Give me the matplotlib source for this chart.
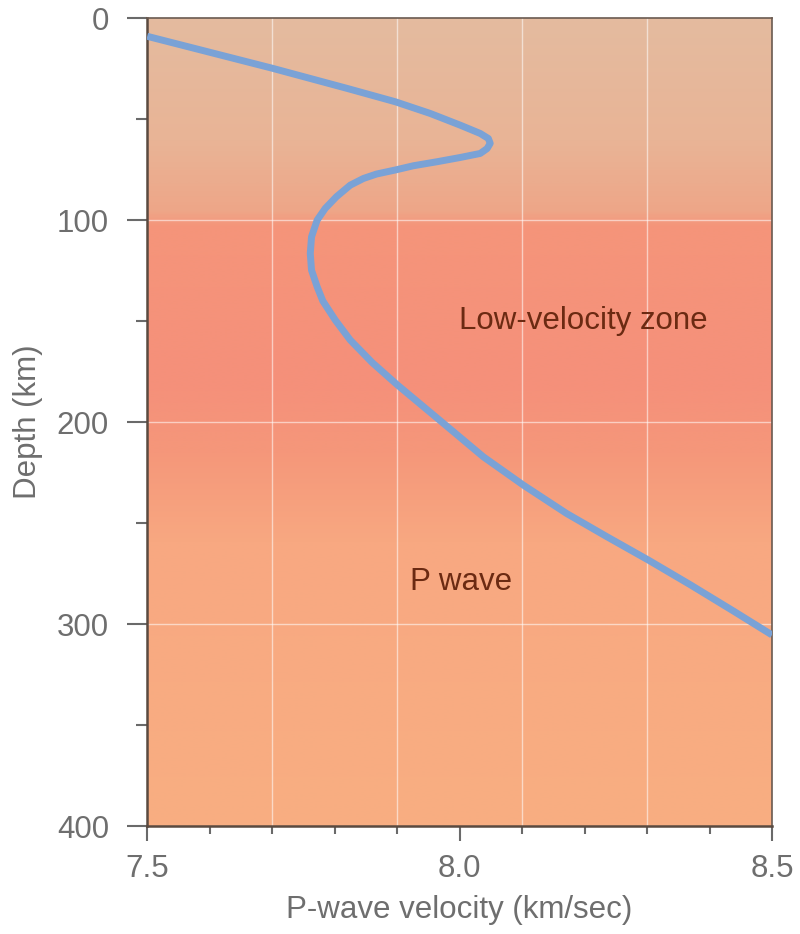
import numpy as np
import matplotlib
matplotlib.use("Agg")
import matplotlib.pyplot as plt
from matplotlib.colors import LinearSegmentedColormap
from matplotlib.ticker import MultipleLocator

# P-wave velocity profile (km/s, km)
velocity = [7.500, 7.600, 7.700, 7.766, 7.820, 7.897, 7.953, 8.001,
            8.033, 8.046, 8.049, 8.044, 8.033, 8.001, 7.964, 7.926, 7.897,
            7.867, 7.846, 7.825, 7.803, 7.785, 7.772, 7.763, 7.761, 7.763,
            7.772, 7.781, 7.801, 7.825, 7.860, 7.900, 7.974, 8.038, 8.102,
            8.171, 8.236, 8.302, 8.369, 8.438, 8.500]
depth = [9.0, 16.9, 24.8, 30.3, 34.8, 41.4, 47.2, 53.0,
         57.1, 59.6, 62.0, 64.6, 67.0, 69.0, 71.1, 73.1, 75.2,
         77.2, 79.4, 82.7, 88.4, 94.2, 100.0, 108.3, 116.5, 124.8,
         133.0, 140.0, 149.5, 159.4, 170.5, 181.5, 200.6, 217.2, 231.2,
         245.2, 256.8, 268.3, 280.5, 293.5, 305.4]

grid_x = [7.7, 7.9, 8.1, 8.3]
grid_y = [100, 200, 300]

# background shading by depth (km -> colour)
bg_depths = [0, 60, 95, 102, 180, 215, 260, 400]
bg_colors = ["#e4bb9f", "#e9b496", "#eea688", "#f5957a",
             "#f5907a", "#f5977a", "#f8a881", "#f8ae82"]

plt.rcParams['font.family'] = ['Liberation Sans', 'DejaVu Sans']
label_color = "#6e6e6e"
tick_color = "#6a6a6a"

fig = plt.figure(figsize=(8, 9.34), dpi=100)
ax = fig.add_axes([0.184, 0.1156, 0.781, 0.865])

cmap = LinearSegmentedColormap.from_list(
    "bg", list(zip(np.array(bg_depths) / 400.0, bg_colors)))
grad = np.linspace(0, 1, 400).reshape(-1, 1)
ax.imshow(grad, cmap=cmap, aspect="auto", extent=[7.5, 8.5, 400, 0],
          interpolation="bilinear", zorder=0)

for gx in grid_x:
    ax.axvline(gx, color="white", lw=1.0, alpha=0.55, zorder=1)
for gy in grid_y:
    ax.axhline(gy, color="white", lw=1.0, alpha=0.55, zorder=1)

ax.plot(velocity, depth, color="#7aa2d6", lw=5, solid_capstyle="butt",
        solid_joinstyle="round", zorder=3)

ax.set_xlim(7.5, 8.5)
ax.set_ylim(400, 0)

ax.xaxis.set_minor_locator(MultipleLocator(0.1))
ax.yaxis.set_major_locator(MultipleLocator(100))
ax.yaxis.set_minor_locator(MultipleLocator(50))
ax.set_xticks([7.5, 8.0, 8.5])
ax.set_xticklabels(["7.5", "8.0", "8.5"])

ax.tick_params(axis="x", which="major", length=11, width=1.5, color=tick_color,
               labelsize=22.5, labelcolor=label_color, pad=9)
ax.tick_params(axis="x", which="minor", length=6, width=1.5, color=tick_color)
ax.tick_params(axis="y", which="major", length=14.5, width=1.5,
               color=tick_color, labelsize=22.5, labelcolor=label_color,
               pad=13)
ax.tick_params(axis="y", which="minor", length=8, width=1.5, color=tick_color)

for side in ["left", "bottom"]:
    ax.spines[side].set_linewidth(1.8)
    ax.spines[side].set_color("#5a4a40")
for side in ["top", "right"]:
    ax.spines[side].set_linewidth(1.2)
    ax.spines[side].set_color("#6a5a50")

ax.set_xlabel("P-wave velocity (km/sec)", fontsize=22.5, color=label_color,
              labelpad=8)
ax.set_ylabel("Depth (km)", fontsize=22.5, color=label_color, labelpad=10)

ax.text(8.198, 150, "Low-velocity zone", fontsize=22.5, color="#6b2a12",
        ha="center", va="center", zorder=4)
ax.text(8.002, 279, "P wave", fontsize=22.5, color="#6b2a12",
        ha="center", va="center", zorder=4)

fig.savefig("out.png", dpi=100)
